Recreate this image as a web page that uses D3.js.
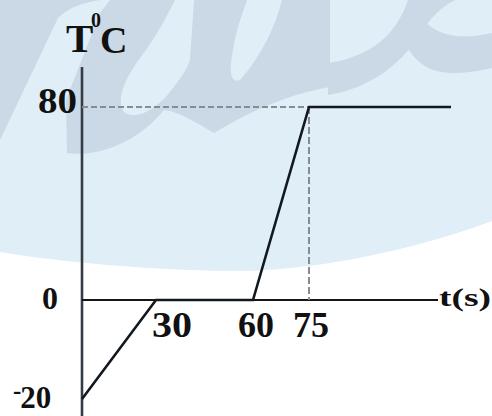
<!DOCTYPE html>
<html>
<head>
<meta charset="utf-8">
<script src="https://cdn.jsdelivr.net/npm/d3@7"></script>
<style>
  html, body { margin: 0; padding: 0; background: #fff; }
  svg { display: block; }
  text { font-family: "Liberation Serif", "Times New Roman", serif; font-weight: bold; fill: #111; }
</style>
</head>
<body>
<svg id="chart" width="492" height="416"></svg>
<script>
// Heating curve: time (s) vs temperature (°C)
const times = [0, 30, 60, 75, 113];
const temps = [-20, 0, 0, 80, 80];
const xTickValues = [30, 60, 75];
const xTickLabels = ["30", "60", "75"];
const yTickValues = [80, 0, -20];
const yTickLabels = ["80", "0", "-20"];

const W = 492, H = 416;
const svg = d3.select("#chart");

// Schematic (non-uniform) axes, as drawn in the textbook sketch
const x = d3.scaleLinear().domain([0, 30, 60, 75, 113]).range([82, 156, 253, 309, 451]);
const y = d3.scaleLinear().domain([-20, 0, 80]).range([399, 300, 107]);

// Background watermark
const bg = svg.append("g");
bg.append("rect").attr("width", W).attr("height", H).attr("fill", "#ffffff");
bg.append("path")
  .attr("d", "M0,0 H492 V221 C400,255 300,272 230,271 C150,270 60,262 0,252 Z")
  .attr("fill", "#dfeef7");
const wm = "#cbd9e6";
bg.append("path").attr("fill", wm)
  .attr("d", "M0,0 L100,0 Q72,4 58,18 L0,140 Z");
bg.append("path").attr("fill", wm)
  .attr("d", "M67,153 L66,100 L100,13 L110,0 L330,0 L330,87 C300,92 260,105 214,133 C195,122 180,112 164,110 C140,140 100,158 67,153 Z");
bg.append("path").attr("fill", "#dfeef7")
  .attr("d", "M175,0 L194,0 L190,60 C186,72 178,82 165,98 C150,112 135,120 124,112 C116,100 124,80 140,58 C150,45 160,30 175,0 Z");
bg.append("path").attr("fill", "#dfeef7")
  .attr("d", "M247,0 L282,0 C276,25 262,55 240,80 C230,84 229,70 233,50 C236,30 242,15 247,0 Z");
bg.append("path").attr("fill", wm)
  .attr("d", "M328,95 C370,88 400,65 420,35 C430,18 440,8 455,0 L408,0 C398,30 378,48 355,56 C345,60 336,62 328,63 Z");
bg.append("path").attr("fill", wm)
  .attr("d", "M406,45 C420,70 440,80 492,68 L492,33 C460,40 440,36 425,22 Z");

// Axes
const axisG = svg.append("g");
axisG.append("line")
  .attr("x1", x(0)).attr("x2", x(0))
  .attr("y1", 67).attr("y2", H)
  .attr("stroke", "#363c45").attr("stroke-width", 2.6);
axisG.append("line")
  .attr("x1", x(0)).attr("x2", 438)
  .attr("y1", y(0)).attr("y2", y(0))
  .attr("stroke", "#151515").attr("stroke-width", 2.2);

// Guide lines to the plateau
const guide = svg.append("g")
  .attr("stroke", "#858c96").attr("stroke-width", 2).attr("fill", "none");
guide.append("line")
  .attr("x1", x(0)).attr("x2", x(75))
  .attr("y1", y(80)).attr("y2", y(80))
  .attr("stroke-dasharray", "6,3");
guide.append("line")
  .attr("x1", x(75)).attr("x2", x(75))
  .attr("y1", y(80)).attr("y2", y(0))
  .attr("stroke-dasharray", "7,3");

// Temperature curve
const data = times.map((t, i) => ({ t, T: temps[i] }));
svg.append("path")
  .datum(data)
  .attr("fill", "none")
  .attr("stroke", "#111820")
  .attr("stroke-width", 2.6)
  .attr("stroke-linejoin", "miter")
  .attr("d", d3.line().x(d => x(d.t)).y(d => y(d.T)));

// Time labels
const xDx = [-4, -15, -16];
xTickValues.forEach((v, i) => {
  svg.append("text")
    .attr("x", x(v) + xDx[i])
    .attr("y", 337)
    .attr("font-size", 36)
    .attr("textLength", i === 0 ? 40 : 36)
    .attr("lengthAdjust", "spacingAndGlyphs")
    .text(xTickLabels[i]);
});

// Temperature labels
const yLabelRight = { "80": 77, "0": 58 };
yTickValues.forEach((v, i) => {
  const lab = yTickLabels[i];
  if (v < 0) {
    const t = svg.append("text")
      .attr("x", 13).attr("y", y(v) + 9)
      .attr("font-size", 31);
    t.append("tspan").attr("font-size", 25).attr("dy", -9).text("-");
    t.append("tspan").attr("dy", 9).attr("dx", -1).text(lab.slice(1));
  } else {
    svg.append("text")
      .attr("x", yLabelRight[lab])
      .attr("y", y(v) + (v === 0 ? 9 : 6))
      .attr("text-anchor", "end")
      .attr("font-size", v === 0 ? 31 : 36)
      .attr("textLength", v === 0 ? 16 : 39)
      .attr("lengthAdjust", "spacingAndGlyphs")
      .text(lab);
  }
});

// Axis titles
const yTitle = svg.append("text").attr("x", 66).attr("y", 52);
yTitle.append("tspan").attr("font-size", 41).text("T");
yTitle.append("tspan").attr("x", 91).attr("y", 27).attr("font-size", 20).text("0");
yTitle.append("tspan").attr("x", 100).attr("y", 53).attr("font-size", 38).text("C");
svg.append("text").attr("x", 439).attr("y", 306).attr("font-size", 26)
  .attr("textLength", 52).attr("lengthAdjust", "spacingAndGlyphs").text("t(s)");
</script>
</body>
</html>
